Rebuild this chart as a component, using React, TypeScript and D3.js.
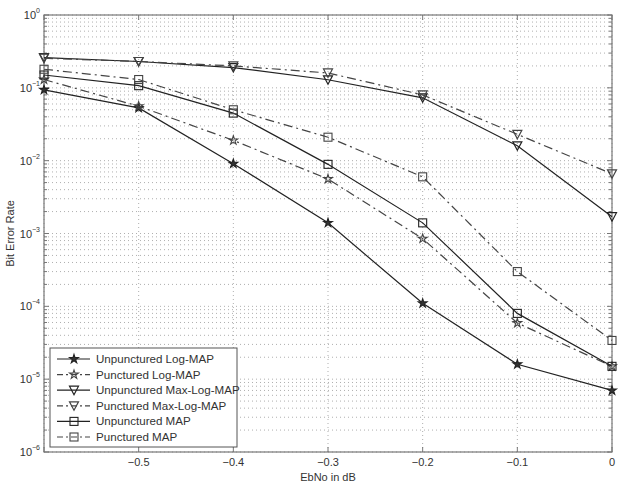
import * as d3 from "d3";
import React from "react";

// EbNo values (dB)
const ebno = [-0.6, -0.5, -0.4, -0.3, -0.2, -0.1, 0];

// bit error rates
const unpuncLogMap = [9.4e-2, 5.3e-2, 9.1e-3, 1.4e-3, 1.1e-4, 1.6e-5, 7e-6];
const puncLogMap = [1.3e-1, 5.6e-2, 1.9e-2, 5.6e-3, 8.5e-4, 5.9e-5, 1.5e-5];
const unpuncMaxLog = [2.6e-1, 2.3e-1, 1.9e-1, 1.29e-1, 7.3e-2, 1.6e-2, 1.7e-3];
const puncMaxLog = [2.55e-1, 2.3e-1, 2.0e-1, 1.6e-1, 8.0e-2, 2.3e-2, 6.6e-3];
const unpuncMap = [1.5e-1, 1.07e-1, 4.5e-2, 8.9e-3, 1.4e-3, 8e-5, 1.5e-5];
const puncMap = [1.8e-1, 1.3e-1, 5e-2, 2.1e-2, 6e-3, 3.0e-4, 3.4e-5];

const xTicks = [-0.6, -0.5, -0.4, -0.3, -0.2, -0.1, 0];
const xTickLabels = ["", "\u22120.5", "\u22120.4", "\u22120.3", "\u22120.2", "\u22120.1", "0"];
const yExponents = [0, -1, -2, -3, -4, -5, -6];

const series = [
  { name: "Unpunctured Log-MAP", values: unpuncLogMap, marker: "star", dashed: false },
  { name: "Punctured Log-MAP", values: puncLogMap, marker: "star", dashed: true },
  { name: "Unpunctured Max-Log-MAP", values: unpuncMaxLog, marker: "tri", dashed: false },
  { name: "Punctured Max-Log-MAP", values: puncMaxLog, marker: "tri", dashed: true },
  { name: "Unpunctured MAP", values: unpuncMap, marker: "square", dashed: false },
  { name: "Punctured MAP", values: puncMap, marker: "square", dashed: true },
];

const W = 622;
const H = 484;
const left = 44, right = 612, top = 15, bottom = 452;
const font = "Liberation Sans, Arial, sans-serif";
const dash = "9,4,2,4";

const Marker = ({ type, x, y, dashed }: { type: string; x: number; y: number; dashed: boolean }) => {
  const stroke = dashed ? "#444" : "#222";
  if (type === "square") {
    return <rect x={x - 4} y={y - 4} width={8} height={8} fill="none" stroke={stroke} strokeWidth={1.1} />;
  }
  if (type === "tri") {
    return <path d={`M${x - 4.5},${y - 4} L${x + 4.5},${y - 4} L${x},${y + 4.5} Z`} fill="none" stroke={stroke} strokeWidth={1.2} />;
  }
  const star = d3.symbol().type(d3.symbolStar).size(24)();
  return (
    <path d={star || ""} transform={`translate(${x},${y})`} fill={dashed ? "none" : "#333"} stroke={stroke} strokeWidth={1.1} />
  );
};

export default function App() {
  const x = d3.scaleLinear().domain([-0.6, 0]).range([left, right]);
  const y = d3.scaleLog().domain([1e-6, 1]).range([bottom, top]);

  const minor: number[] = [];
  for (let e = -6; e < 0; e++) {
    for (let m = 2; m <= 9; m++) minor.push(m * Math.pow(10, e));
  }
  const major = yExponents.map((e) => Math.pow(10, e));

  const line = d3
    .line<number>()
    .x((_, i) => x(ebno[i]))
    .y((d) => y(d));

  const legX = 50, legY = 348, legW = 187, legH = 99, legStep = 15.6;

  return (
    <svg width={W} height={H} style={{ position: "absolute", left: 0, top: 0, background: "#fff" }}>
      <rect x={0} y={0} width={W} height={H} fill="#fff" />
      {/* grid */}
      <g stroke="#9a9a9a" strokeWidth={0.8} strokeDasharray="1,3">
        {minor.concat(major).map((v, i) => (
          <line key={"gy" + i} x1={left} x2={right} y1={y(v)} y2={y(v)} />
        ))}
        {xTicks.map((v, i) => (
          <line key={"gx" + i} x1={x(v)} x2={x(v)} y1={top} y2={bottom} />
        ))}
      </g>
      {/* ticks */}
      <g stroke="#777" strokeWidth={1}>
        {major.map((v, i) => (
          <g key={"mj" + i}>
            <line x1={left} x2={left + 5} y1={y(v)} y2={y(v)} />
            <line x1={right} x2={right - 5} y1={y(v)} y2={y(v)} />
          </g>
        ))}
        {minor.map((v, i) => (
          <g key={"mn" + i}>
            <line x1={left} x2={left + 3} y1={y(v)} y2={y(v)} />
            <line x1={right} x2={right - 3} y1={y(v)} y2={y(v)} />
          </g>
        ))}
        {xTicks.map((v, i) => (
          <g key={"xt" + i}>
            <line x1={x(v)} x2={x(v)} y1={bottom} y2={bottom - 5} />
            <line x1={x(v)} x2={x(v)} y1={top} y2={top + 5} />
          </g>
        ))}
      </g>
      <rect x={left} y={top} width={right - left} height={bottom - top} fill="none" stroke="#777" strokeWidth={1.2} />
      {/* tick labels */}
      <g fontFamily={font} fill="#333">
        {xTicks.map((v, i) => (
          <text key={"xl" + i} x={x(v)} y={bottom + 14} fontSize={11} textAnchor="middle">
            {xTickLabels[i]}
          </text>
        ))}
        {yExponents.map((e, i) => (
          <text key={"yl" + i} x={left - 4} y={y(Math.pow(10, e)) + 4} fontSize={11} textAnchor="end">
            10
            <tspan fontSize={7} dy={-6}>
              {e === 0 ? "0" : "\u2212" + Math.abs(e)}
            </tspan>
          </text>
        ))}
        <text x={(left + right) / 2} y={481} fontSize={11} textAnchor="middle">
          EbNo in dB
        </text>
        <text transform={`translate(14,${(top + bottom) / 2}) rotate(-90)`} fontSize={11} textAnchor="middle">
          Bit Error Rate
        </text>
      </g>
      {/* series */}
      {series.map((s, si) => (
        <g key={"s" + si}>
          <path
            d={line(s.values) || ""}
            fill="none"
            stroke={s.dashed ? "#444" : "#222"}
            strokeWidth={1.2}
            strokeDasharray={s.dashed ? dash : undefined}
          />
          {s.values.map((v, i) => (
            <Marker key={i} type={s.marker} x={x(ebno[i])} y={y(v)} dashed={s.dashed} />
          ))}
        </g>
      ))}
      {/* legend */}
      <rect x={legX} y={legY} width={legW} height={legH} fill="#fff" stroke="#555" strokeWidth={1} />
      {series.map((s, i) => {
        const ly = legY + 11 + i * legStep;
        return (
          <g key={"lg" + i}>
            <line
              x1={legX + 7}
              x2={legX + 40}
              y1={ly}
              y2={ly}
              stroke={s.dashed ? "#444" : "#222"}
              strokeWidth={1.2}
              strokeDasharray={s.dashed ? "6,3,2,3" : undefined}
            />
            <Marker type={s.marker} x={legX + 24} y={ly} dashed={s.dashed} />
            <text x={legX + 46} y={ly + 4} fontSize={11.6} fontFamily={font} fill="#333">
              {s.name}
            </text>
          </g>
        );
      })}
    </svg>
  );
}
